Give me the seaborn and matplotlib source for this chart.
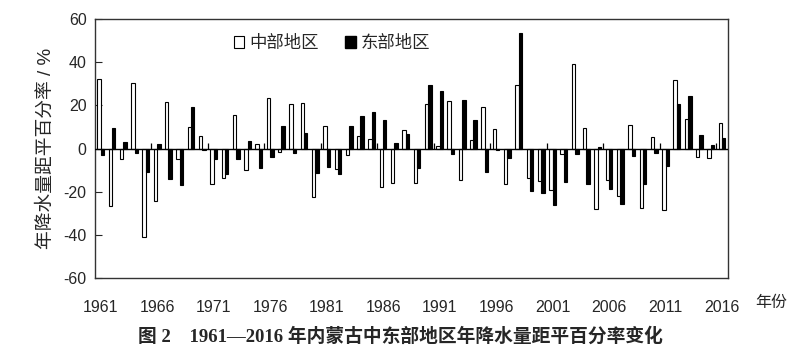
import numpy as np
import pandas as pd
import matplotlib
matplotlib.use("Agg")
import matplotlib.pyplot as plt
import seaborn as sns
from matplotlib.patches import Patch

years = list(range(1961, 2017))
central = [32.4, -26.5, -5.0, 30.4, -40.9, -24.3, 21.4, -4.7, 9.9, 6.0,
           -16.3, -13.5, 15.5, -10.1, 1.9, 23.5, -1.5, 20.5, 21.3, -22.4,
           10.6, -9.3, -3.1, 5.7, 4.3, -17.6, -15.8, 8.6, -16.2, 20.8,
           1.3, 22.1, -14.7, 4.0, 19.3, 9.0, -16.6, 29.5, -13.6, -15.2,
           -19.0, -2.7, 39.1, 9.7, -28.1, -14.5, -22.1, 10.7, -27.4, 5.5,
           -28.6, 31.8, 13.6, -3.8, -4.5, 11.6]
eastern = [-3.0, 9.7, 3.1, -1.9, -10.8, 2.0, -14.2, -16.9, 19.3, -0.6,
           -4.9, -12.0, -5.0, 3.4, -9.2, -3.9, 10.6, -2.0, 7.1, -11.3,
           -8.5, -11.7, 10.3, 15.0, 17.1, 13.4, 2.7, 6.6, -9.0, 29.2,
           26.8, -2.7, 22.7, 13.0, -10.8, -0.5, -4.6, 53.4, -19.8, -20.8,
           -26.3, -15.6, -2.7, -16.6, 0.9, -18.9, -25.5, -3.4, -16.5, -1.9,
           -8.1, 20.6, 24.3, 6.2, 1.8, 4.8]
regions = ["中部地区", "东部地区"]
tick_years = list(range(1961, 2017, 5))
y_ticks = [-60, -40, -20, 0, 20, 40, 60]

df = pd.DataFrame({
    "year": [str(y) for y in years] * 2,
    "region": [regions[0]] * len(years) + [regions[1]] * len(years),
    "value": central + eastern,
})

sns.set_style("white")
plt.rcParams["font.family"] = ["Liberation Sans", "Noto Sans CJK SC"]
plt.rcParams["axes.unicode_minus"] = False

fig = plt.figure(figsize=(8, 3.59), dpi=100)
ax = fig.add_axes([0.11875, 0.2256, 0.9096 - 0.11875, 0.947 - 0.2256])

sns.barplot(data=df, x="year", y="value", hue="region", hue_order=regions,
            order=[str(y) for y in years],
            palette={regions[0]: "white", regions[1]: "black"},
            edgecolor="black", linewidth=0.8, width=0.6, dodge=True,
            legend=False, ax=ax, errorbar=None)

ax.set_xlim(-0.5, len(years) - 0.5)
ax.set_ylim(-60, 60)
ax.set_yticks(y_ticks)
ax.set_yticklabels([str(v) for v in y_ticks], fontsize=11.5)
ax.set_xticks([years.index(y) for y in tick_years])
ax.set_xticklabels([str(y) for y in tick_years], fontsize=11.5)
ax.tick_params(axis="x", length=0, pad=16)
ax.tick_params(axis="y", direction="in", length=5, width=0.8, pad=6, left=True)
ax.set_xlabel("")
ax.set_ylabel("年降水量距平百分率 / %", fontsize=13.5, labelpad=6)

ax.axhline(0, color="black", lw=1.0, zorder=3)
bounds = [years.index(y) - 0.5 for y in tick_years[1:]]
ax.vlines(bounds, 0, 2.6, color="black", lw=0.9, zorder=3)

for s in ax.spines.values():
    s.set_visible(True)
    s.set_color("#333333")
    s.set_linewidth(1.0)

handles = [Patch(facecolor="white", edgecolor="black", linewidth=0.8, label=regions[0]),
           Patch(facecolor="black", edgecolor="black", label=regions[1])]
ax.legend(handles=handles, ncol=2, frameon=False, loc="center left",
          bbox_to_anchor=(0.195, 0.907), fontsize=12.5, handlelength=0.6,
          handleheight=0.6, handletextpad=0.3, columnspacing=1.5)

fig.text(755 / 800, 1 - 302 / 359, "年份", fontsize=11.5, va="center", ha="left")
fig.text(0.5, 1 - 336 / 359, "图 2　1961—2016 年内蒙古中东部地区年降水量距平百分率变化",
         fontsize=13.5, fontweight="bold", ha="center", va="center",
         family=["Liberation Serif", "Noto Sans CJK SC"])

fig.savefig("out.png", dpi=100)
